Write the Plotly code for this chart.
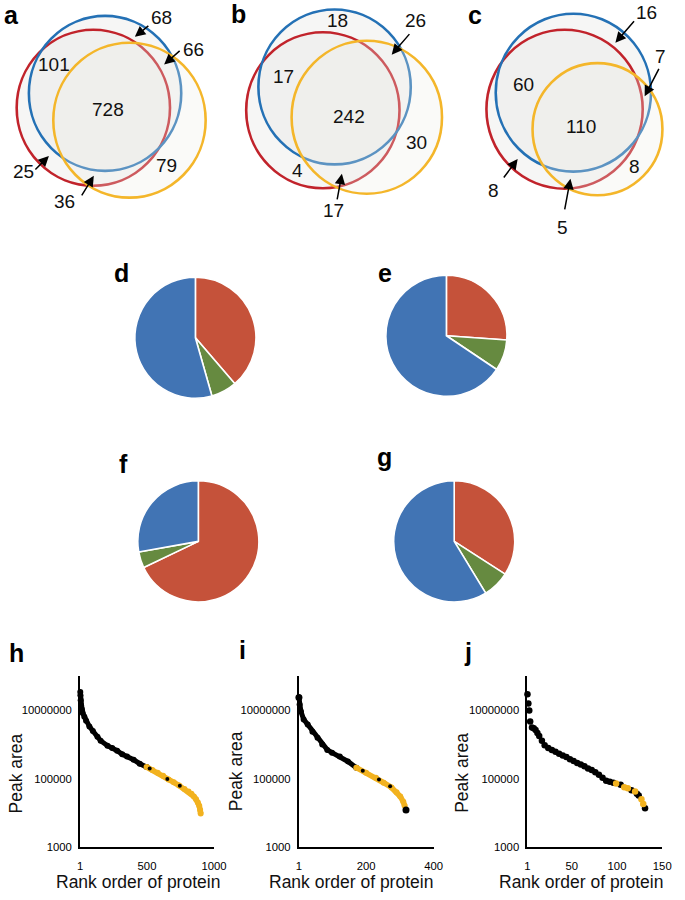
import plotly.graph_objects as go

W, H = 685, 900

# ------------------------------------------------------------------ data
venn_a_counts = [68, 66, 101, 728, 25, 79, 36]
venn_b_counts = [18, 26, 17, 242, 30, 4, 17]
venn_c_counts = [16, 7, 60, 110, 8, 8, 5]

pie_categories = ["Category 1", "Category 2", "Category 3"]
pie_d_values = [38.7, 6.9, 54.4]
pie_e_values = [26.1, 8.3, 65.6]
pie_f_values = [67.9, 4.3, 27.8]
pie_g_values = [34.1, 7.2, 58.7]

x_ticks_h = [1, 500, 1000]
x_ticks_i = [1, 200, 400]
x_ticks_j = [1, 50, 100, 150]
y_ticks = [1e3, 1e5, 1e7]
y_tick_text = ["1000", "100000", "10000000"]

h_top_rank = [1]
h_top_area = [1.05e8]
h_black_rank = [2, 3, 5, 8, 12, 15, 20, 32, 45, 70, 96, 130, 154, 205, 240, 277, 315, 351, 400, 446, 497]
h_black_area = [3.5e7, 2.8e7, 2.0e7, 1.4e7, 1.15e7, 1.0e7, 8.5e6, 6.6e6, 5.0e6, 3.4e6, 2.5e6,
                1.7e6, 1.3e6, 9.3e5, 8.0e5, 6.6e5, 5.2e5, 4.5e5, 3.6e5, 2.75e5, 2.2e5]
h_yellow_rank = [497, 540, 580, 620, 660, 700, 740, 780, 810, 832, 850, 866, 880, 890, 897, 901]
h_yellow_area = [2.2e5, 1.8e5, 1.5e5, 1.22e5, 9.5e4, 7.8e4, 6.3e4, 5.0e4, 4.2e4, 3.6e4, 3.0e4, 2.5e4,
                 2.0e4, 1.6e4, 1.2e4, 9.5e3]
h_mixed_rank = [520, 652, 745]
h_mixed_area = [2.0e5, 9.8e4, 6.2e4]

i_top_rank = [1]
i_top_area = [2.4e7]
i_black_rank = [1, 3, 7, 15, 27, 41, 56, 70, 85, 99, 122, 146, 171]
i_black_area = [2.4e7, 1.5e7, 9.3e6, 5.5e6, 3.9e6, 2.4e6, 1.6e6, 1.0e6, 7.0e5, 5.8e5, 4.5e5, 3.2e5, 2.1e5]
i_yellow_rank = [171, 200, 229, 252, 275, 290, 301, 310, 314]
i_yellow_area = [2.1e5, 1.5e5, 1.07e5, 7.6e4, 5.5e4, 4.0e4, 3.0e4, 2.1e4, 1.6e4]
i_mixed_rank = [190, 238, 271]
i_mixed_area = [1.7e5, 9.5e4, 6.0e4]
i_end_rank = [318]
i_end_area = [1.2e4]

j_black_rank = [1, 2, 3, 4, 6, 8, 10, 12, 14, 17, 20, 24, 28, 32, 36, 40, 44, 48, 52, 56, 60, 64,
                68, 72, 76, 80, 84, 88, 92, 96, 104, 116, 122, 124, 131]
j_black_area = [3.0e7, 1.6e7, 1.0e7, 4.8e6, 3.2e6, 3.0e6, 2.7e6, 2.2e6, 1.8e6, 1.3e6, 9.5e5, 8.0e5,
                6.9e5, 6.2e5, 5.4e5, 4.8e5, 4.3e5, 3.7e5, 3.3e5, 2.9e5, 2.6e5, 2.3e5, 2.0e5, 1.8e5,
                1.55e5, 1.3e5, 1.07e5, 8.7e4, 8.1e4, 7.6e4, 6.6e4, 4.6e4, 3.6e4, 3.2e4, 1.35e4]
j_yellow_rank = [99, 108, 112, 120, 127, 129]
j_yellow_area = [7.2e4, 5.6e4, 5.2e4, 4.2e4, 2.5e4, 1.8e4]

# ------------------------------------------------------------------ style / layout
FONT = "Arial, 'Liberation Sans', sans-serif"
BLUE_C, RED_C, YEL_C = "#2471B5", "#C1232B", "#F4B62A"
PIE_COLORS = ["#C5523A", "#668A40", "#4174B4"]
DOT_BLACK, DOT_YELLOW = "#000000", "#F2B21F"


def px(x):
    return x / W


def py(y):
    return 1 - y / H


# circle geometry in pixels: (colour, cx, cy, r)
venn_circles = {
    "a": [(RED_C, 92.5, 108.5, 78.5), (BLUE_C, 104.5, 94, 78), (YEL_C, 129.5, 121, 78)],
    "b": [(RED_C, 327.5, 111, 78.5), (BLUE_C, 339.5, 87.5, 78), (YEL_C, 372.5, 118, 77)],
    "c": [(RED_C, 575, 110, 80), (BLUE_C, 584, 93.3, 79.5), (YEL_C, 608.7, 130, 66.5)],
}
venn_label_pos = {
    "a": [(162, 18), (195, 50), (52, 65), (108, 110), (21, 173), (167, 167), (63, 203)],
    "b": [(342, 21), (422, 21), (287, 77), (354, 117), (423, 143), (302, 172), (338, 212)],
    "c": [(659, 13), (673, 57), (533, 85), (592, 127), (647, 168), (502, 192), (573, 229)],
}
# arrows: (head x, head y, tail x, tail y)
venn_arrows = [
    (135, 37, 150, 25), (165, 65, 182, 50), (47, 157, 32, 172), (93, 177, 80, 198),
    (398, 55, 417, 33), (347, 175, 342, 202),
    (627, 43, 647, 20), (657, 97, 672, 68), (527, 160, 512, 180), (581, 180, 575, 212),
]
panel_letters = [("a", 9, 15), ("b", 241, 14), ("c", 483, 15), ("d", 121, 275), ("e", 391, 275),
                 ("f", 123, 467), ("g", 391, 460), ("h", 14, 657), ("i", 245, 654), ("j", 476, 656)]
pie_geom = [(197, 340, 62), (454, 338, 62), (200, 545, 62), (462, 545, 62)]

fig = go.Figure()

# ---------------- Venn diagrams (shapes)
shapes = []
for key, circles in venn_circles.items():
    for col, cx, cy, r in circles[:2]:
        shapes.append(dict(type="circle", xref="paper", yref="paper",
                           x0=px(cx - r), x1=px(cx + r), y0=py(cy + r), y1=py(cy - r),
                           fillcolor="rgba(232,232,228,0.38)", line=dict(width=0)))
    for col, cx, cy, r in circles[:2]:
        shapes.append(dict(type="circle", xref="paper", yref="paper",
                           x0=px(cx - r), x1=px(cx + r), y0=py(cy + r), y1=py(cy - r),
                           line=dict(color=col, width=2.6)))
    col, cx, cy, r = circles[2]
    shapes.append(dict(type="circle", xref="paper", yref="paper",
                       x0=px(cx - r), x1=px(cx + r), y0=py(cy + r), y1=py(cy - r),
                       fillcolor="rgba(236,236,230,0.28)", line=dict(color=col, width=2.6)))

annotations = []
for key, counts in (("a", venn_a_counts), ("b", venn_b_counts), ("c", venn_c_counts)):
    for val, (x, y) in zip(counts, venn_label_pos[key]):
        annotations.append(dict(x=px(x), y=py(y), xref="paper", yref="paper", text=str(val),
                                showarrow=False, xanchor="center", yanchor="middle",
                                font=dict(size=19, color="#111111", family=FONT)))
for hx, hy, tx, ty in venn_arrows:
    annotations.append(dict(x=px(hx), y=py(hy), xref="paper", yref="paper", text="",
                            showarrow=True, ax=tx - hx, ay=ty - hy, arrowhead=2, arrowsize=1.4,
                            arrowwidth=1.5, arrowcolor="#000000", standoff=0, startstandoff=0))
for letter, x, y in panel_letters:
    annotations.append(dict(x=px(x), y=py(y), xref="paper", yref="paper", text=f"<b>{letter}</b>",
                            showarrow=False, xanchor="center", yanchor="middle",
                            font=dict(size=25, color="#000000", family=FONT)))

# ---------------- pies
for vals, (cx, cy, r) in zip([pie_d_values, pie_e_values, pie_f_values, pie_g_values], pie_geom):
    fig.add_trace(go.Pie(values=vals, labels=pie_categories, sort=False, direction="clockwise",
                         rotation=0, textinfo="none", hoverinfo="label+percent",
                         marker=dict(colors=PIE_COLORS, line=dict(color="white", width=1.6)),
                         domain=dict(x=[px(cx - r), px(cx + r)], y=[py(cy + r), py(cy - r)]),
                         showlegend=False))


# ---------------- rank plots
def add_dots(ax_idx, xs, ys, color, size, line_width=None):
    xa = "x" if ax_idx == 1 else f"x{ax_idx}"
    ya = "y" if ax_idx == 1 else f"y{ax_idx}"
    kw = dict(mode="markers")
    if line_width:
        kw = dict(mode="lines+markers", line=dict(color=color, width=line_width))
    fig.add_trace(go.Scatter(x=xs, y=ys, xaxis=xa, yaxis=ya, marker=dict(size=size, color=color),
                             cliponaxis=False, showlegend=False, **kw))


# h
add_dots(1, h_top_rank, h_top_area, DOT_BLACK, 6)
add_dots(1, h_black_rank, h_black_area, DOT_BLACK, 6, 5)
add_dots(1, h_yellow_rank, h_yellow_area, DOT_YELLOW, 6, 5.5)
add_dots(1, h_mixed_rank, h_mixed_area, DOT_BLACK, 4)
# i
add_dots(2, i_top_rank, i_top_area, DOT_BLACK, 7)
add_dots(2, i_black_rank, i_black_area, DOT_BLACK, 6, 5)
add_dots(2, i_yellow_rank, i_yellow_area, DOT_YELLOW, 6, 5.5)
add_dots(2, i_mixed_rank, i_mixed_area, DOT_BLACK, 4)
add_dots(2, i_end_rank, i_end_area, DOT_BLACK, 7)
# j
add_dots(3, j_black_rank, j_black_area, DOT_BLACK, 6.5)
add_dots(3, j_yellow_rank, j_yellow_area, DOT_YELLOW, 6.5)

Y_DOM = [py(852.5), py(681)]
tickfont = dict(size=11.3, color="#000000", family=FONT)


def xaxis_cfg(x0, x1, rng, ticks, anchor):
    return dict(domain=[px(x0), px(x1)], range=rng, anchor=anchor, tickvals=ticks,
                ticktext=[str(t) for t in ticks], showline=True, linecolor="black", linewidth=2,
                ticks="outside", ticklen=8, tickcolor="rgba(0,0,0,0)", showgrid=False,
                zeroline=False, tickfont=tickfont, fixedrange=True)


def yaxis_cfg(anchor):
    return dict(domain=Y_DOM, type="log", range=[3, 8], anchor=anchor, tickvals=y_ticks,
                ticktext=y_tick_text, showline=True, linecolor="black", linewidth=2,
                ticks="outside", ticklen=4, tickcolor="rgba(0,0,0,0)", showgrid=False,
                zeroline=False, tickfont=tickfont, fixedrange=True)


axis_titles = [(138, 888, 13, 779), (356, 888, 238, 776), (592, 888, 470, 778)]
for xt_x, xt_y, yt_x, yt_y in axis_titles:
    annotations.append(dict(x=px(xt_x), y=py(xt_y), xref="paper", yref="paper",
                            text="Rank order of protein", showarrow=False, xanchor="center",
                            yanchor="middle", font=dict(size=17.5, color="#111111", family=FONT)))
    annotations.append(dict(x=px(yt_x), y=py(yt_y), xref="paper", yref="paper", text="Peak area",
                            textangle=-90, showarrow=False, xanchor="center", yanchor="middle",
                            font=dict(size=17.5, color="#111111", family=FONT)))

fig.update_layout(
    width=W, height=H, margin=dict(l=0, r=0, t=0, b=0),
    paper_bgcolor="white", plot_bgcolor="rgba(0,0,0,0)",
    font=dict(family=FONT, color="#111111"), showlegend=False,
    xaxis=xaxis_cfg(79, 216, [1, 1000], x_ticks_h, "y"),
    yaxis=yaxis_cfg("x"),
    xaxis2=xaxis_cfg(303, 441, [1, 400], x_ticks_i, "y2"),
    yaxis2=yaxis_cfg("x2"),
    xaxis3=xaxis_cfg(537, 675, [1, 150], x_ticks_j, "y3"),
    yaxis3=yaxis_cfg("x3"),
    shapes=shapes, annotations=annotations,
)

fig.write_html("out.html", post_script="document.body.style.margin='0px';",
               config={"displayModeBar": False})
